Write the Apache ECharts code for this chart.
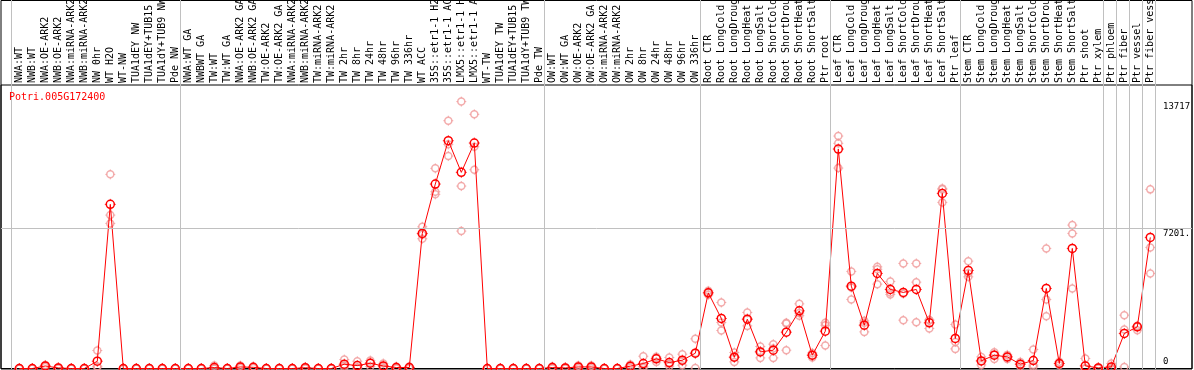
<!DOCTYPE html>
<html>
<head>
<meta charset="utf-8">
<script src="https://cdn.jsdelivr.net/npm/echarts@6/dist/echarts.min.js"></script>
<style>
  html, body { margin: 0; padding: 0; background: #fff; }
  #chart { width: 1194px; height: 370px; }
</style>
</head>
<body>
<div id="chart"></div>
<script>
// sample names, left to right
const categories = [
  'NWA:WT', 'NWB:WT', 'NWA:OE-ARK2', 'NWB:OE-ARK2', 'NWA:miRNA-ARK2', 'NWB:miRNA-ARK2',
  'NW 0hr', 'WT H2O', 'WT-NW', 'TUA1dEY NW', 'TUA1dEY+TUB15 NW', 'TUA1dY+TUB9 NW', 'Pde NW',
  'NWA:WT GA', 'NWBWT GA', 'TW:WT', 'TW:WT GA', 'NWA:OE-ARK2 GA', 'NWB:OE-ARK2 GA',
  'TW:OE-ARK2', 'TW:OE-ARK2 GA', 'NWA:miRNA-ARK2', 'NWB:miRNA-ARK2', 'TW:miRNA-ARK2',
  'TW:miRNA-ARK2', 'TW 2hr', 'TW 8hr', 'TW 24hr', 'TW 48hr', 'TW 96hr', 'TW 336hr',
  'WT ACC', '35S::etr1-1 H2O', '35S::etr1-1 ACC', 'LMX5::etr1-1 H2O', 'LMX5::etr1-1 ACC',
  'WT-TW', 'TUA1dEY TW', 'TUA1dEY+TUB15 TW', 'TUA1dY+TUB9 TW', 'Pde TW',
  'OW:WT', 'OW:WT GA', 'OW:OE-ARK2', 'OW:OE-ARK2 GA', 'OW:miRNA-ARK2', 'OW:miRNA-ARK2',
  'OW 2hr', 'OW 8hr', 'OW 24hr', 'OW 48hr', 'OW 96hr', 'OW 336hr',
  'Root CTR', 'Root LongCold', 'Root LongDrought', 'Root LongHeat', 'Root LongSalt',
  'Root ShortCold', 'Root ShortDrought', 'Root ShortHeat', 'Root ShortSalt', 'Ptr root',
  'Leaf CTR', 'Leaf LongCold', 'Leaf LongDrought', 'Leaf LongHeat', 'Leaf LongSalt',
  'Leaf ShortCold', 'Leaf ShortDrought', 'Leaf ShortHeat', 'Leaf ShortSalt', 'Ptr leaf',
  'Stem CTR', 'Stem LongCold', 'Stem LongDrought', 'Stem LongHeat', 'Stem LongSalt',
  'Stem ShortCold', 'Stem ShortDrought', 'Stem ShortHeat', 'Stem ShortSalt', 'Ptr shoot',
  'Ptr xylem', 'Ptr phloem', 'Ptr fiber', 'Ptr vessel', 'Ptr fiber vessel'
];

// mean expression per sample
const means = [
  0, 0, 130, 30, 0, 0, 375, 8435, 0, 0, 0, 0, 0,
  0, 0, 50, 0, 80, 60, 0, 0, 0, 40, 0, 0, 220, 150, 270, 130, 50, 50,
  6943, 9479, 11706, 10080, 11587, 0, 0, 0, 0, 0,
  50, 30, 80, 80, 0, 0, 120, 255, 495, 305, 425, 785,
  3888, 2571, 581, 2535, 854, 941, 1867, 2962, 684, 1918,
  11279, 4233, 2227, 4886, 4063, 3909, 4063, 2345, 9000, 1543,
  5040, 391, 684, 597, 221, 411, 4114, 257, 6172, 134,
  31, 82, 1800, 2140, 6737
];

// replicate values
const rep1 = [
  0, 0, 180, 60, 0, 0, 925, 9977, 0, 0, 0, 0, 0,
  0, 0, 150, 0, 150, 100, 0, 0, 0, 80, 0, 0, 460, 375, 410, 260, 100, 100,
  7283, 10286, 12734, 13717, 13063, 0, 0, 0, 0, 0,
  100, 60, 150, 150, 0, 0, 200, 630, 600, 565, 735, 1523,
  3991, 3394, 822, 2880, 1131, 1250, 2314, 3322, 800, 2345,
  11947, 4989, 2448, 5225, 4474, 5400, 5400, 2484, 9257, 2263,
  5518, 597, 838, 700, 340, 977, 6172, 350, 7370, 514,
  60, 257, 2741, 2200, 9206
];
const rep2 = [
  0, 0, 130, 30, 0, 0, 80, 7884, 0, 0, 0, 0, 0,
  0, 0, 0, 0, 60, 60, 0, 0, 0, 40, 0, 0, 150, 50, 300, 100, 50, 50,
  6880, 9083, 11520, 9376, 11397, 0, 0, 0, 0, 0,
  50, 30, 80, 80, 0, 0, 120, 105, 545, 230, 370, 800,
  3888, 2366, 581, 2535, 886, 1028, 2346, 2850, 684, 2226,
  11572, 4161, 2351, 5097, 3909, 3843, 4438, 2494, 9206, 1358,
  4891, 391, 720, 597, 221, 174, 3549, 257, 6943, 0,
  31, 0, 2006, 2140, 6223
];
const rep3 = [
  0, 0, 80, 0, 0, 0, 120, 7457, 0, 0, 0, 0, 0,
  0, 0, 0, 0, 30, 20, 0, 0, 0, 0, 0, 0, 50, 25, 100, 30, 0, 0,
  6667, 8950, 10919, 7061, 10214, 0, 0, 0, 0, 0,
  0, 0, 10, 10, 0, 0, 40, 30, 340, 120, 170, 30,
  3785, 1954, 340, 2190, 545, 545, 941, 2714, 568, 1183,
  10301, 3549, 1882, 4336, 3806, 2484, 2381, 2057, 8537, 1008,
  4711, 185, 494, 494, 102, 82, 2690, 164, 4114, 0,
  0, 0, 82, 1970, 4886
];

// group separators (index of first sample in each group, plus the end)
const groupStarts = [0, 13, 41, 53, 63, 73, 84, 85, 86, 87, 88];

// right side value labels
const yTickValues = [0, 7201, 13717];
const yTickText = ['0', '7201.', '13717'];

const geneName = 'Potri.005G172400';

const yMax = 14570;
const mono = 'DejaVu Sans Mono';
const red = '#ff0000';
const pink = '#f09898';

// four little ticks drawn round each circle marker
const ticks = 'path://M5 0L5 1.5M5 8.5L5 10M0 5L1.5 5M8.5 5L10 5';

const repPoints = [];
[rep1, rep2, rep3].forEach(function (rep) {
  rep.forEach(function (v, i) { repPoints.push([i, v]); });
});
const meanPoints = means.map(function (v, i) { return [i, v]; });

const chart = echarts.init(document.getElementById('chart'), null, {renderer: 'canvas'});

const option = {
  animation: false,
  backgroundColor: '#fff',
  title: {
    text: geneName,
    left: 9,
    top: 92,
    padding: 0,
    textStyle: {color: red, fontSize: 10, fontWeight: 'normal', fontFamily: mono}
  },
  grid: [
    // data
    {left: 12.8, right: 37.2, top: 85, bottom: 1.5, outerBoundsMode: 'none', containLabel: false},
    // separators over the whole height
    {left: 11, right: 39, top: 0, bottom: 1, outerBoundsMode: 'none'},
    // outer box
    {left: 1, right: 2, top: 0.5, bottom: 1, outerBoundsMode: 'none', show: true, borderColor: '#000', borderWidth: 1, backgroundColor: 'transparent'},
    // plot box
    {left: 1, right: 2, top: 85, bottom: 1.5, outerBoundsMode: 'none', show: true, borderColor: '#000', borderWidth: 1, backgroundColor: 'transparent'}
  ],
  xAxis: [
    {
      gridIndex: 0,
      type: 'category',
      data: categories,
      position: 'top',
      boundaryGap: true,
      axisLine: {show: false},
      axisTick: {show: false},
      splitLine: {show: false},
      axisLabel: {
        interval: 0,
        rotate: 90,
        margin: 2,
        color: '#000',
        fontSize: 10,
        fontFamily: mono
      }
    },
    {gridIndex: 1, type: 'value', min: 0, max: 88, show: false},
    {gridIndex: 2, type: 'value', min: 0, max: 1, show: false},
    {gridIndex: 3, type: 'value', min: 0, max: 1, show: false}
  ],
  yAxis: [
    {gridIndex: 0, type: 'value', min: 0, max: yMax, show: false},
    {gridIndex: 1, type: 'value', min: 0, max: 1, show: false},
    {gridIndex: 2, type: 'value', min: 0, max: 1, show: false},
    {
      gridIndex: 3,
      type: 'value',
      min: 0,
      max: yMax,
      position: 'right',
      axisLine: {show: false},
      axisTick: {show: false},
      splitLine: {show: false},
      axisLabel: {
        inside: true,
        align: 'left',
        margin: 29,
        customValues: yTickValues,
        formatter: function (v) {
          const k = yTickValues.indexOf(v);
          const t = k >= 0 ? yTickText[k] : '';
          return v === 0 ? '{u|' + t + '}' : '{d|' + t + '}';
        },
        rich: {
          d: {padding: [10, 0, 0, 0], fontSize: 9, fontFamily: mono, color: '#000'},
          u: {padding: [0, 0, 13, 0], fontSize: 9, fontFamily: mono, color: '#000'}
        }
      }
    }
  ],
  series: [
    {
      type: 'scatter',
      xAxisIndex: 1,
      yAxisIndex: 1,
      data: [],
      silent: true,
      markLine: {
        silent: true,
        symbol: ['none', 'none'],
        label: {show: false},
        lineStyle: {color: '#c0c0c0', type: 'solid', width: 1},
        data: groupStarts.map(function (g) { return {xAxis: g}; })
      }
    },
    {
      type: 'scatter',
      xAxisIndex: 3,
      yAxisIndex: 3,
      data: [],
      silent: true,
      markLine: {
        silent: true,
        symbol: ['none', 'none'],
        label: {show: false},
        lineStyle: {color: '#c0c0c0', type: 'solid', width: 1},
        data: [{yAxis: yTickValues[1]}]
      }
    },
    {
      name: 'replicates',
      type: 'scatter',
      xAxisIndex: 0,
      yAxisIndex: 0,
      data: repPoints,
      symbol: 'circle',
      symbolSize: 7,
      itemStyle: {color: 'transparent', borderColor: pink, borderWidth: 1.5},
      z: 3
    },
    {
      type: 'scatter',
      xAxisIndex: 0,
      yAxisIndex: 0,
      data: repPoints,
      symbol: ticks,
      symbolSize: 10,
      silent: true,
      itemStyle: {color: 'transparent', borderColor: pink, borderWidth: 1},
      z: 3
    },
    {
      name: geneName,
      type: 'line',
      xAxisIndex: 0,
      yAxisIndex: 0,
      data: means,
      symbol: 'circle',
      symbolSize: 8,
      showAllSymbol: true,
      lineStyle: {color: red, width: 1},
      itemStyle: {color: 'transparent', borderColor: red, borderWidth: 1.5},
      z: 4
    },
    {
      type: 'scatter',
      xAxisIndex: 0,
      yAxisIndex: 0,
      data: meanPoints,
      symbol: ticks,
      symbolSize: 11,
      silent: true,
      itemStyle: {color: 'transparent', borderColor: red, borderWidth: 1},
      z: 4
    }
  ]
};

chart.setOption(option);
</script>
</body>
</html>
